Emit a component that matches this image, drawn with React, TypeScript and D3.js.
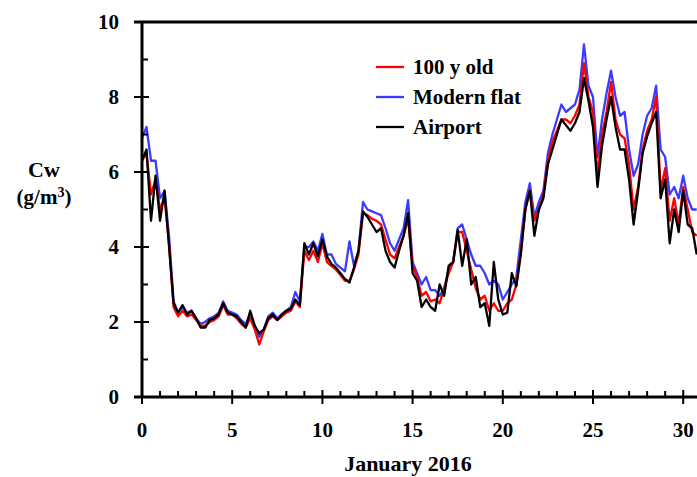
import React, { useEffect, useRef } from "react";
import * as d3 from "d3";

// readings every 6 h, starting 1 January 00:00
const STEP = 0.25;

const oldHouse = [
  6.3, 6.5, 5.4, 5.8, 5.0, 5.3, 4.1, 2.4, 2.15, 2.3, 2.15, 2.2, 2.05, 1.9, 1.9, 2.0,
  2.05, 2.15, 2.45, 2.2, 2.2, 2.1, 1.95, 1.85, 2.1, 1.8, 1.4, 1.75, 2.05, 2.15, 2.05, 2.15,
  2.25, 2.3, 2.55, 2.4, 3.9, 3.65, 3.9, 3.6, 4.1, 3.6, 3.5, 3.4, 3.25, 3.1, 3.1, 3.4,
  3.8, 4.9, 4.85, 4.75, 4.7, 4.6, 4.2, 3.8, 3.7, 4.0, 4.3, 4.75, 3.5, 3.2, 2.7, 2.8,
  2.55, 2.6, 2.5, 2.9, 3.3, 3.6, 4.4, 4.4, 3.9, 3.4, 2.9, 2.6, 2.7, 2.3, 2.5, 2.3,
  2.3, 2.5, 2.6, 3.0, 3.9, 5.0, 5.5, 4.7, 5.0, 5.4, 6.3, 6.8, 7.1, 7.4, 7.4, 7.3,
  7.5, 7.8, 8.9, 8.0, 7.6, 5.9, 7.0, 7.6, 8.4, 7.4, 7.0, 6.9, 6.2, 5.0, 5.6, 6.6,
  7.1, 7.4, 8.0, 5.5, 6.1, 4.7, 5.3, 4.6, 5.6, 5.0, 4.4, 4.3
];

const modernFlat = [
  6.9, 7.2, 6.3, 6.3, 5.3, 5.5, 4.3, 2.55, 2.25, 2.4, 2.25, 2.3, 2.1, 1.95, 2.0, 2.1,
  2.15, 2.25, 2.55, 2.3, 2.25, 2.2, 2.05, 1.95, 2.2, 1.9, 1.6, 1.8, 2.15, 2.25, 2.1, 2.2,
  2.3, 2.4, 2.8, 2.55, 4.0, 4.0, 4.15, 3.9, 4.35, 3.8, 3.8, 3.55, 3.45, 3.35, 4.15, 3.5,
  3.9, 5.2, 5.0, 4.95, 4.9, 4.85, 4.5, 4.1, 3.9, 4.2, 4.5, 5.25, 3.6, 3.3, 3.0, 3.2,
  2.85, 2.85, 2.7, 2.9, 3.4, 3.6, 4.5, 4.6, 4.2, 3.8, 3.5, 3.5, 3.3, 3.0, 3.1, 3.0,
  2.6, 2.8, 3.0, 3.2, 4.2, 5.2, 5.7, 4.8, 5.2, 5.5, 6.5, 7.0, 7.4, 7.8, 7.6, 7.7,
  7.8, 8.2, 9.4, 8.3, 8.0, 6.4, 7.4, 8.1, 8.7, 8.0, 7.5, 7.6, 6.6, 5.9, 6.2, 7.0,
  7.5, 7.7, 8.3, 6.6, 6.4, 5.4, 5.6, 5.3, 5.9, 5.3, 5.0, 5.0
];

const airport = [
  6.3, 6.6, 4.7, 5.9, 4.7, 5.5, 4.0, 2.5, 2.25, 2.45, 2.2, 2.3, 2.1, 1.85, 1.85, 2.05,
  2.1, 2.2, 2.5, 2.25, 2.2, 2.15, 2.0, 1.85, 2.3, 1.9, 1.7, 1.8, 2.1, 2.2, 2.05, 2.2,
  2.3, 2.35, 2.6, 2.45, 4.1, 3.8, 4.1, 3.75, 4.2, 3.75, 3.55, 3.45, 3.3, 3.15, 3.05, 3.45,
  3.9, 4.95, 4.8, 4.6, 4.4, 4.5, 3.9, 3.6, 3.45, 3.9, 4.3, 4.9, 3.3, 3.1, 2.4, 2.6,
  2.4, 2.3, 3.0, 2.7, 3.5, 3.6, 4.45, 3.5, 4.2, 3.0, 3.2, 2.4, 2.5, 1.9, 3.6, 2.6,
  2.2, 2.25, 3.3, 2.95, 3.8, 5.0, 5.5, 4.3, 5.0, 5.3, 6.2, 6.6, 7.0, 7.4, 7.25, 7.1,
  7.3, 7.6, 8.5, 7.9, 7.2, 5.6, 6.7, 7.4, 8.0, 7.2, 6.6, 6.6, 5.8, 4.6, 5.5, 6.5,
  6.95, 7.3, 7.6, 5.3, 5.8, 4.1, 5.0, 4.4, 5.5, 4.6, 4.5, 3.8
];

const legendNames = ["100 y old", "Modern flat", "Airport"];
const yTicks = [0, 2, 4, 6, 8, 10];
const yMinor = [1, 3, 5, 7, 9];
const xTicks = [0, 5, 10, 15, 20, 25, 30];

const App = () => {
  const ref = useRef(null);

  useEffect(() => {
    const svg = d3.select(ref.current);
    svg.selectAll("*").remove();

    const W = 697, H = 477;
    const left = 142, top = 22, bottom = 397;
    const font = "'Liberation Serif', 'Times New Roman', serif";

    const x = d3.scaleLinear().domain([0, 31]).range([left, left + 31 * 18.04]);
    const y = d3.scaleLinear().domain([0, 10]).range([bottom, top]);

    // courbes : bleu en dessous, noir au-dessus
    const series = [
      { name: legendNames[1], color: "#3b3bff", values: modernFlat },
      { name: legendNames[0], color: "#ff0000", values: oldHouse },
      { name: legendNames[2], color: "#000000", values: airport },
    ];

    svg.append("defs").append("clipPath").attr("id", "plot-clip")
      .append("rect").attr("x", left).attr("y", top - 2).attr("width", W - left).attr("height", bottom - top + 2);

    const line = d3.line<number>()
      .x((d, i) => x(i * STEP))
      .y(d => y(d));

    const g = svg.append("g").attr("clip-path", "url(#plot-clip)");
    series.forEach(s => {
      g.append("path")
        .datum(s.values)
        .attr("d", line)
        .attr("fill", "none")
        .attr("stroke", s.color)
        .attr("stroke-width", 2.3)
        .attr("stroke-linejoin", "round");
    });

    // axes
    const ax = svg.append("g").attr("stroke", "#000");
    ax.append("line").attr("x1", left).attr("x2", left).attr("y1", top).attr("y2", bottom).attr("stroke-width", 3);
    ax.append("line").attr("x1", left - 8).attr("x2", W).attr("y1", bottom).attr("y2", bottom).attr("stroke-width", 3);
    ax.append("line").attr("x1", left - 8).attr("x2", W).attr("y1", top).attr("y2", top).attr("stroke-width", 3);

    yTicks.forEach(t => {
      ax.append("line").attr("x1", left - 8).attr("x2", left + 7).attr("y1", y(t)).attr("y2", y(t)).attr("stroke-width", 2);
    });
    yMinor.forEach(t => {
      ax.append("line").attr("x1", left).attr("x2", left + 6).attr("y1", y(t)).attr("y2", y(t)).attr("stroke-width", 2);
    });
    d3.range(0, 31).forEach(t => {
      const major = t % 5 === 0;
      ax.append("line")
        .attr("x1", x(t)).attr("x2", x(t))
        .attr("y1", major ? bottom - 7 : bottom - 6)
        .attr("y2", major ? bottom + 7 : bottom)
        .attr("stroke-width", 2);
    });

    const txt = svg.append("g").attr("font-family", font).attr("font-weight", "bold").attr("fill", "#000");

    yTicks.forEach(t => {
      txt.append("text").attr("x", 119).attr("y", y(t)).attr("dy", "0.35em")
        .attr("text-anchor", "end").attr("font-size", 21).text(t);
    });
    xTicks.forEach(t => {
      txt.append("text").attr("x", x(t)).attr("y", 437)
        .attr("text-anchor", "middle").attr("font-size", 21).text(t);
    });

    txt.append("text").attr("x", 408).attr("y", 471).attr("text-anchor", "middle")
      .attr("font-size", 22).text("January 2016");

    txt.append("text").attr("x", 44).attr("y", 177).attr("text-anchor", "middle")
      .attr("font-size", 22).text("Cw");
    const unit = txt.append("text").attr("x", 44).attr("y", 204).attr("text-anchor", "middle").attr("font-size", 21);
    unit.append("tspan").text("(g/m");
    unit.append("tspan").attr("font-size", 14).attr("dy", -7).text("3");
    unit.append("tspan").attr("dy", 7).text(")");

    // légende
    const legend = [
      { name: legendNames[0], color: "#ff0000" },
      { name: legendNames[1], color: "#3b3bff" },
      { name: legendNames[2], color: "#000000" },
    ];
    legend.forEach((l, i) => {
      const ly = 67 + i * 30;
      svg.append("line").attr("x1", 376).attr("x2", 404).attr("y1", ly).attr("y2", ly)
        .attr("stroke", l.color).attr("stroke-width", 2.3);
      txt.append("text").attr("x", 413).attr("y", ly + 7).attr("font-size", 21).text(l.name);
    });
  }, []);

  return (
    <svg ref={ref} width={697} height={477}
      style={{ position: "absolute", left: 0, top: 0, background: "#fff" }} />
  );
};

export default App;
